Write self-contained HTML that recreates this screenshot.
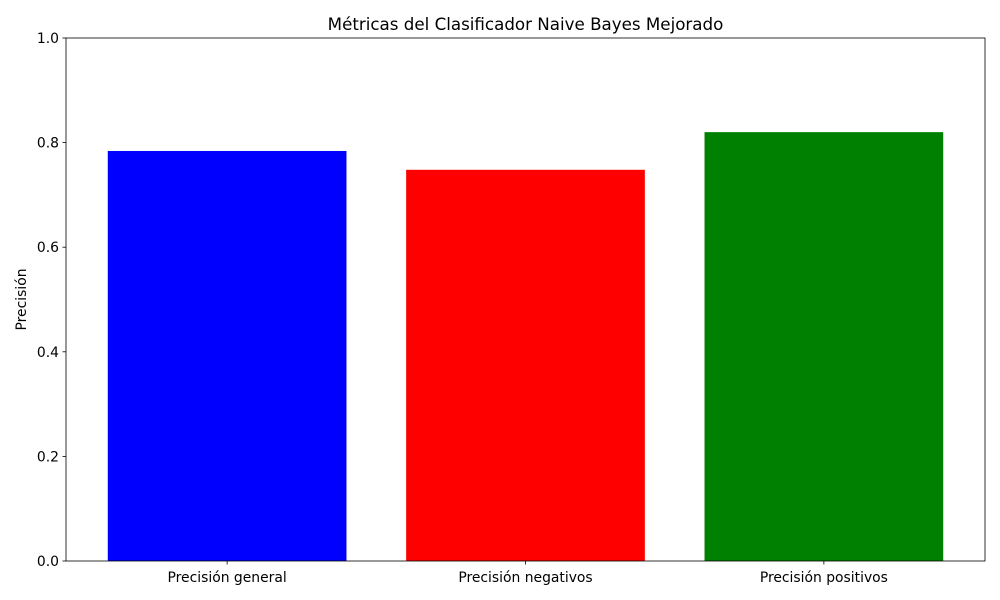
<!DOCTYPE html>
<html><head><meta charset="utf-8"><style>body{margin:0;background:#fff}svg{display:block;font-family:"DejaVu Sans","Liberation Sans",sans-serif}</style></head>
<body>
<svg id="chart" width="1000" height="600">
<rect width="1000" height="600" fill="#fff"/>
<text x="525.5" y="30" font-size="16.7" text-anchor="middle">Métricas del Clasificador Naive Bayes Mejorado</text>
<g id="bars"></g>
<g id="axes"></g>
<text transform="translate(26,299.5) rotate(-90)" font-size="13.9" text-anchor="middle">Precisión</text>
</svg>
<script>
const categories = ["Precisión general", "Precisión negativos", "Precisión positivos"];
const values = [0.784, 0.748, 0.820];
const colors = ["#0000ff", "#ff0000", "#008000"];
const yTicks = [0, 0.2, 0.4, 0.6, 0.8, 1.0];
const yTickLabels = ["0.0", "0.2", "0.4", "0.6", "0.8", "1.0"];

const L = 66, R = 985, T = 38, B = 561;
const xMin = -0.54, xMax = categories.length - 1 + 0.54;
const xs = v => L + (v - xMin) / (xMax - xMin) * (R - L);
const ys = v => B - v * (B - T);
const NS = "http://www.w3.org/2000/svg";
const bars = document.getElementById("bars"), axes = document.getElementById("axes");
function mk(tag, attrs, parent) {
  const e = document.createElementNS(NS, tag);
  for (const k in attrs) e.setAttribute(k, attrs[k]);
  parent.appendChild(e); return e;
}
values.forEach((v, i) => {
  const x0 = xs(i - 0.4), x1 = xs(i + 0.4);
  const r = mk("rect", {x: x0, y: ys(v), width: x1 - x0, height: ys(0) - ys(v), fill: colors[i]}, bars);
  
  
  const t = mk("line", {x1: xs(i), x2: xs(i), y1: B, y2: B + 3.5, stroke: "#000", "stroke-width": 0.8}, axes);
  
  
  const lb = mk("text", {x: xs(i), y: B + 21, "font-size": 13.9, "text-anchor": "middle"}, axes);
  lb.textContent = categories[i];
  
  
});
yTicks.forEach((v, i) => {
  const t = mk("line", {x1: L - 3.5, x2: L, y1: ys(v), y2: ys(v), stroke: "#000", "stroke-width": 0.8}, axes);
  
  
  const lb = mk("text", {x: L - 7, y: ys(v) + 5, "font-size": 13.9, "text-anchor": "end"}, axes);
  lb.textContent = yTickLabels[i];
  
  
});
const frame = mk("rect", {x: L, y: T, width: R - L, height: B - T, fill: "none", stroke: "#000", "stroke-width": 0.8}, axes);


</script>
</body></html>
